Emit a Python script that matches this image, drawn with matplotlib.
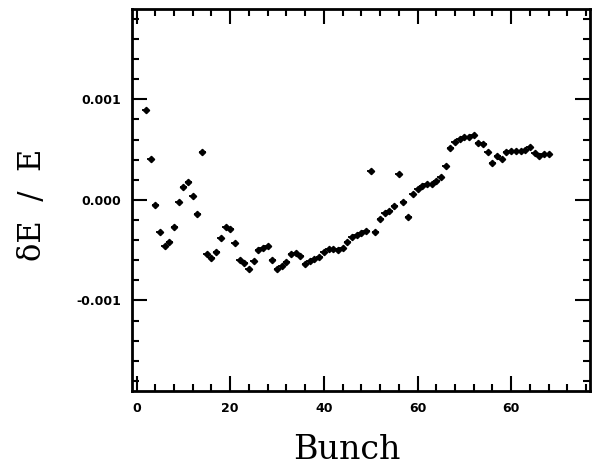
import numpy as np
import matplotlib
matplotlib.use("Agg")
from matplotlib import pyplot as plt
from matplotlib.ticker import MultipleLocator, FixedLocator, FixedFormatter

# bunch number and relative energy offset (units of 1e-3)
bunch = list(range(2, 89))
dE = [0.89, 0.41, -0.05, -0.32, -0.46, -0.42, -0.27, -0.02, 0.13, 0.18,
      0.04, -0.14, 0.48, -0.54, -0.58, -0.52, -0.38, -0.27, -0.29, -0.43,
      -0.60, -0.63, -0.69, -0.61, -0.50, -0.48, -0.46, -0.60, -0.69, -0.66,
      -0.62, -0.54, -0.53, -0.56, -0.64, -0.61, -0.59, -0.57, -0.52, -0.49,
      -0.49, -0.50, -0.48, -0.42, -0.37, -0.35, -0.33, -0.31, 0.29, -0.32,
      -0.19, -0.13, -0.11, -0.06, 0.26, -0.02, -0.17, 0.06, 0.11, 0.14,
      0.16, 0.16, 0.19, 0.23, 0.34, 0.52, 0.58, 0.61, 0.63, 0.63,
      0.65, 0.57, 0.56, 0.48, 0.37, 0.44, 0.41, 0.48, 0.49, 0.49,
      0.49, 0.50, 0.53, 0.47, 0.44, 0.46, 0.46]
dE = np.array(dE) * 1e-3

xticks = [0, 20, 40, 60, 80]
xticklabels = ["0", "20", "40", "60", "60"]
yticks = [-0.001, 0.0, 0.001]
yticklabels = ["-0.001", "0.000", "0.001"]

fig = plt.figure(figsize=(5.94, 4.66), dpi=100)
ax = fig.add_axes([0.222, 0.161, 0.771, 0.82])

ax.errorbar(bunch, dE, xerr=0.75, fmt="D", color="black", ms=3.2,
            elinewidth=1.3, capsize=0)

ax.set_xlim(-1.0, 96.8)
ax.set_ylim(-0.0019, 0.0019)

ax.xaxis.set_major_locator(FixedLocator(xticks))
ax.xaxis.set_major_formatter(FixedFormatter(xticklabels))
ax.xaxis.set_minor_locator(MultipleLocator(4))
ax.yaxis.set_major_locator(FixedLocator(yticks))
ax.yaxis.set_major_formatter(FixedFormatter(yticklabels))
ax.yaxis.set_minor_locator(MultipleLocator(0.0002))

ax.tick_params(which="both", direction="in", top=True, right=True,
               width=1.5, labelsize=9, pad=8)
ax.tick_params(which="major", length=11)
ax.tick_params(which="minor", length=5)
for lab in ax.get_xticklabels() + ax.get_yticklabels():
    lab.set_fontweight("bold")
for sp in ax.spines.values():
    sp.set_linewidth(2)

fig.text(0.584, 0.035, "Bunch", fontsize=24, family="DejaVu Serif",
         ha="center", va="center")
fig.text(0.055, 0.56, "\u03b4E  /  E", fontsize=22, family="DejaVu Serif",
         rotation=90, ha="center", va="center")

fig.savefig("out.png", dpi=100)
